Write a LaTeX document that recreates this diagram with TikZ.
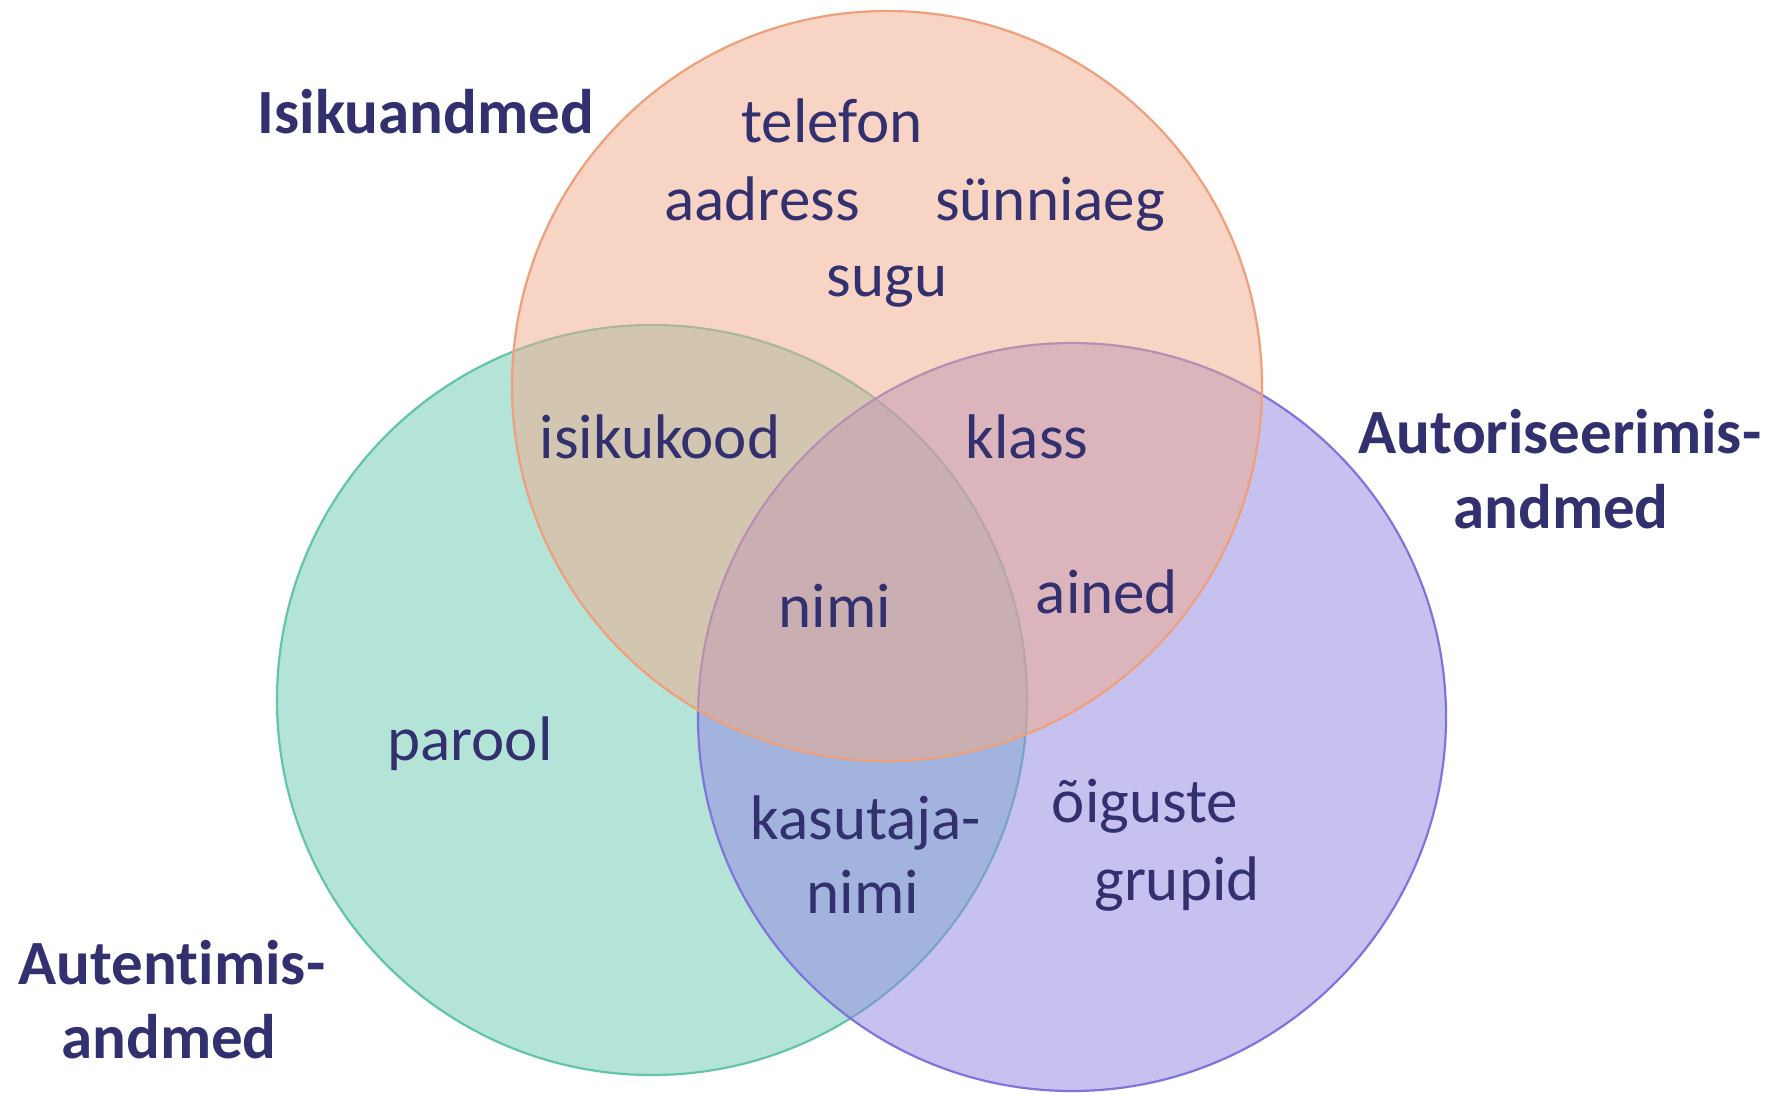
\documentclass[tikz,border=0pt]{standalone}
\usepackage{fontspec}
\setmainfont[RawFeature={-liga;-clig;-calt}]{Carlito}
\definecolor{txt}{RGB}{50,48,110}
\definecolor{ofill}{RGB}{241,171,137}
\definecolor{gfill}{RGB}{107,201,179}
\definecolor{pfill}{RGB}{145,133,227}
\definecolor{oline}{RGB}{238,160,125}
\definecolor{gline}{RGB}{100,196,170}
\definecolor{pline}{RGB}{128,116,220}
\tikzset{
  setcircle/.style={line width=1.1pt, fill opacity=0.5},
  lbl/.style={anchor=base, inner sep=0pt, text=txt, font=\fontsize{31.5}{37.5}\selectfont},
  title/.style={lbl, font=\fontsize{31.5}{37.5}\selectfont\bfseries}
}
\begin{document}
\begin{tikzpicture}[x=0.5pt, y=-0.5pt]
\useasboundingbox (0,0) rectangle (1771,1093);
\fill[white] (0,0) rectangle (1771,1093);
% circles
\draw[setcircle, draw=gline, fill=gfill] (652,700) circle [radius=187.5pt];
\draw[setcircle, draw=pline, fill=pfill] (1072,717) circle [radius=187pt];
\draw[setcircle, draw=oline, fill=ofill] (887,386) circle [radius=187.5pt];
% titles
\node[title] (isik) at (426,133) {Isikuandmed};
\node[title] (aut1) at (1560,453) {Autoriseerimis-};
\node[title] (aut2) at (1561,528) {andmed};
\node[title] (ate1) at (172,984) {Autent\kern0pt imis-};
\node[title] (ate2) at (169,1058) {andmed};
% items
\node[lbl] (telefon) at (832,142) {telefon};
\node[lbl] (aadress) at (762,220) {aadress};
\node[lbl] (synni) at (1050,220) {sünniaeg};
\node[lbl] (sugu) at (887,296) {sugu};
\node[lbl] (isikukood) at (660,458) {isikukood};
\node[lbl] (klass) at (1027,458) {klass};
\node[lbl] (nimi) at (835,627) {nimi};
\node[lbl] (ained) at (1107,613) {ained};
\node[lbl] (parool) at (470,760) {parool};
\node[lbl] (kas1) at (866,839) {kasutaja-};
\node[lbl] (kas2) at (863,913) {nimi};
\node[lbl] (oig1) at (1145,822) {õiguste};
\node[lbl] (oig2) at (1177,900) {grupid};
\end{tikzpicture}
\end{document}
